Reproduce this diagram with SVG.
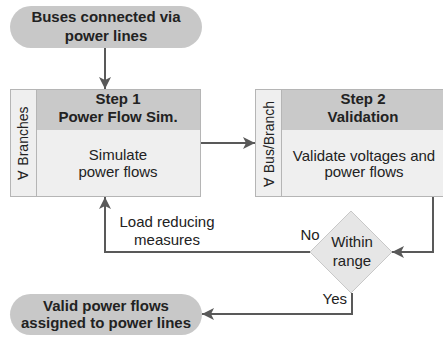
<svg xmlns="http://www.w3.org/2000/svg" width="443" height="337" viewBox="0 0 443 337">
<defs>
<marker id="arr" viewBox="0 0 12 12" refX="12" refY="6" markerWidth="12" markerHeight="12" markerUnits="userSpaceOnUse" orient="auto">
<path d="M0,0 L12,6 L0,12 L3,6 Z" fill="#595959"/>
</marker>
<style>
.pill{fill:#c8c8c8;stroke:none}
.hdr{fill:#c9c9c9;stroke:none}
.body{fill:#efefef;stroke:#b5b5b5;stroke-width:1}
.strip{fill:#efefef;stroke:#b5b5b5;stroke-width:1}
.dia{fill:#e6e6e6;stroke:#c8c8c8;stroke-width:1}
.conn{fill:none;stroke:#595959;stroke-width:2;marker-end:url(#arr)}
text{font-family:"Liberation Sans",Arial,sans-serif;fill:#222}
.b{font-weight:bold;font-size:15px;text-anchor:middle}
.r{font-size:15px;text-anchor:middle}
.s{font-size:14px;text-anchor:middle}
</style>
</defs>
<g id="start">
<rect class="pill" x="10" y="6" width="192" height="42" rx="21"/>
<text class="b" x="106" y="22">Buses connected via</text>
<text class="b" x="106" y="41">power lines</text>
</g>
<g id="step1">
<rect class="body" x="10.5" y="89.5" width="190" height="107"/>
<rect class="hdr" x="36" y="90" width="164" height="40"/>
<rect class="strip" x="10.5" y="89.5" width="26" height="107"/>
<text class="b" x="118" y="104">Step 1</text>
<text class="b" x="118" y="122">Power Flow Sim.</text>
<text class="r" x="118" y="160">Simulate</text>
<text class="r" x="118" y="177">power flows</text>
<text class="s" transform="translate(23,143) rotate(-90)" y="5">∀ Branches</text>
</g>
<g id="step2">
<rect class="body" x="255.5" y="89.5" width="190" height="107"/>
<rect class="hdr" x="282" y="90" width="163" height="40"/>
<rect class="strip" x="255.5" y="89.5" width="26" height="107"/>
<text class="b" x="363" y="104">Step 2</text>
<text class="b" x="363" y="122">Validation</text>
<text class="r" x="364" y="161">Validate voltages and</text>
<text class="r" x="364" y="177">power flows</text>
<text class="s" transform="translate(268.5,144) rotate(-90)" y="5">∀ Bus/Branch</text>
</g>
<g id="decision">
<polygon class="dia" points="351,211 392,252 351,293 310,252"/>
<text class="r" x="352" y="247">Within</text>
<text class="r" x="352" y="266">range</text>
</g>
<g id="end">
<rect class="pill" x="10" y="294" width="192" height="41" rx="20.5"/>
<text class="b" x="106" y="311">Valid power flows</text>
<text class="b" x="106" y="328">assigned to power lines</text>
</g>
<g id="connectors">
<path class="conn" d="M105,48 L105,89"/>
<path class="conn" d="M201,143 L255,143"/>
<path class="conn" d="M433,197 L433,252 L392,252"/>
<path class="conn" d="M310,252 L105,252 L105,197"/>
<path class="conn" d="M352,293 L352,314 L202,314"/>
<text class="r" x="167" y="227">Load reducing</text>
<text class="r" x="167" y="245">measures</text>
<text class="r" x="310" y="240">No</text>
<text class="r" style="text-anchor:end" x="347" y="304">Yes</text>
</g>
</svg>
